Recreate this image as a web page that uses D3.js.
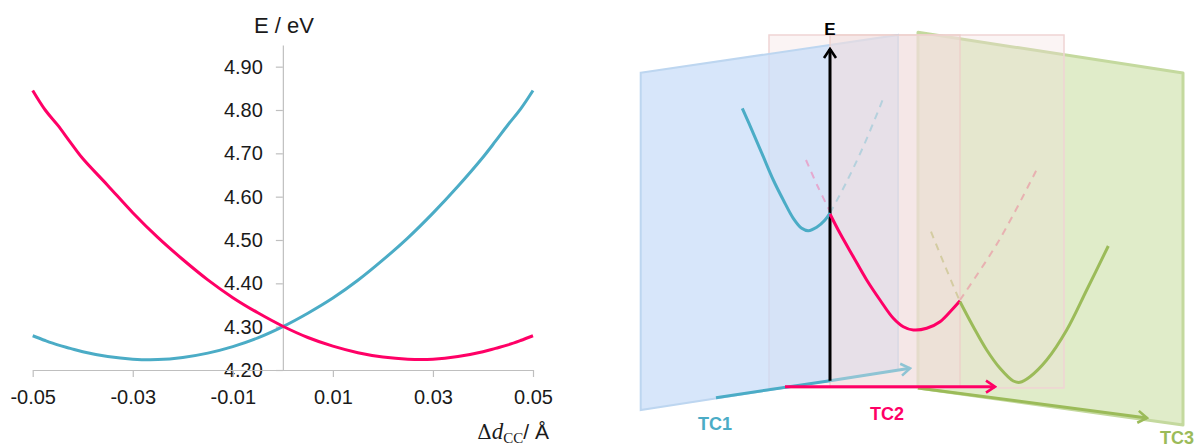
<!DOCTYPE html>
<html>
<head>
<meta charset="utf-8">
<script src="https://cdn.jsdelivr.net/npm/d3@7"></script>
<style>
  html, body { margin: 0; padding: 0; background: #ffffff; }
  svg { display: block; }
  text { font-family: "Liberation Sans", Arial, sans-serif; }
</style>
</head>
<body>
<svg id="chart" width="1196" height="448"></svg>
<script>
// ---------------- Left chart data ----------------
const dcc = [-0.05, -0.0475, -0.045, -0.0425, -0.04, -0.035, -0.03, -0.025, -0.02, -0.015, -0.01, -0.005,
             0, 0.005, 0.01, 0.015, 0.02, 0.025, 0.03, 0.035, 0.04, 0.0425, 0.045, 0.0475, 0.05];
const energyTC1 = [4.279, 4.268, 4.258, 4.250, 4.242, 4.231, 4.225, 4.224, 4.229, 4.239, 4.254, 4.274,
                   4.300, 4.331, 4.366, 4.407, 4.454, 4.505, 4.562, 4.624, 4.691, 4.728, 4.766, 4.802, 4.845];
const energyTC2 = [4.845, 4.800, 4.765, 4.726, 4.688, 4.626, 4.563, 4.506, 4.455, 4.408, 4.367, 4.332,
                   4.301, 4.275, 4.255, 4.240, 4.230, 4.225, 4.225, 4.231, 4.242, 4.250, 4.258, 4.268, 4.279];
const yTicks = [4.20, 4.30, 4.40, 4.50, 4.60, 4.70, 4.80, 4.90];
const xTicks = [-0.05, -0.03, -0.01, 0.01, 0.03, 0.05];

// ---------------- Right schematic data (diagram units) ----------------
const tc1Curve   = [[10.23,27.27],[11.33,24.77],[12.33,22.43],[13.33,20.10],[14.33,18.10],[15.33,16.27],[16.17,15.27],[16.83,15.03],[17.67,15.37],[18.50,16.10],[19.0,16.8]];
const tc1Dashed  = [[19.0,16.8],[20.6,19.8],[22.4,23.6],[24.33,28.27]];
const tc2DashedL = [[16.6,22.1],[17.8,19.4],[18.93,17.1]];
const tc2Curve   = [[19.0,16.7],[20.0,14.77],[21.33,12.43],[22.67,10.10],[24.0,8.10],[25.33,6.27],[26.33,5.43],[27.33,5.10],[28.67,5.27],[30.0,5.93],[31.17,7.10],[32.0,8.03]];
const tc2DashedR = [[32.0,8.1],[35.93,14.1],[39.8,21.4]];
const tc3DashedL = [[29.1,14.93],[30.5,11.5],[31.93,8.1]];
const tc3Curve   = [[32.0,7.93],[33.33,5.43],[34.67,3.10],[36.0,1.27],[37.33,0.0],[38.0,-0.13],[39.0,0.43],[40.67,2.10],[42.67,5.10],[44.67,9.10],[46.83,13.5]];
const panelTC1   = [[0.07,30.83],[25.8,34.6],[25.8,1.1],[19.0,0.03],[0.07,-2.9]];
const panelBack  = [[12.9,34.6],[42.4,34.6],[42.4,-0.7],[12.9,-0.7]];
const panelTC2   = [[19.0,34.6],[32.0,34.6],[32.0,-0.6],[19.0,-0.6]];
const panelTC3   = [[27.8,34.87],[54.3,30.8],[54.3,-4.4],[27.8,-0.7]];
const axisE      = [[19.0,0.03],[19.0,33.2]];
const axisTC1    = [[7.6,-1.67],[19.0,0.03]];
const axisTC1ext = [[19.0,0.03],[27.0,1.27]];
const axisTC2    = [[14.5,-0.57],[35.5,-0.57]];
const axisTC3    = [[27.8,-0.7],[50.7,-3.7]];
const diagramLabels = [
  {text: "E",   x: 19.0, y: 34.6, color: "#000000", size: 17},
  {text: "TC1", x: 7.5,  y: -4.9, color: "#4bacc6", size: 18},
  {text: "TC2", x: 24.7, y: -3.9, color: "#ff0066", size: 18},
  {text: "TC3", x: 53.7, y: -6.3, color: "#9bbb59", size: 18}
];

const BLUE = "#4bacc6", PINK = "#ff0066", GREEN = "#9bbb59";

const svg = d3.select("#chart");

// ================= LEFT CHART =================
const x = d3.scaleLinear().domain([-0.05, 0.05]).range([32.7, 533]);
const y = d3.scaleLinear().domain([4.2, 4.95]).range([370, 45]);

const left = svg.append("g");

const yAxis = d3.axisLeft(y).tickValues(yTicks).tickSize(7).tickSizeOuter(0).tickPadding(13)
  .tickFormat(d => d.toFixed(2));
const yg = left.append("g").attr("transform", `translate(${x(0)},0)`).call(yAxis);

const xAxis = d3.axisBottom(x).tickValues(xTicks).tickSize(7).tickSizeOuter(0).tickPadding(13)
  .tickFormat(d => d.toFixed(2));
const xg = left.append("g").attr("transform", `translate(0,${y(4.2)})`).call(xAxis);

[yg, xg].forEach(g => {
  g.selectAll("path.domain").attr("stroke", "#bfbfbf").attr("stroke-width", 1.2);
  g.selectAll(".tick line").attr("stroke", "#bfbfbf").attr("stroke-width", 1.2);
  g.selectAll(".tick text").attr("fill", "#1a1a1a").style("font-size", "20px")
    .style("font-family", "'Liberation Sans', Arial, sans-serif");
});

const line = d3.line().x(d => x(d[0])).y(d => y(d[1])).curve(d3.curveCatmullRom.alpha(0.5));
left.append("path").datum(dcc.map((d, i) => [d, energyTC1[i]]))
  .attr("d", line).attr("fill", "none").attr("stroke", BLUE).attr("stroke-width", 3);
left.append("path").datum(dcc.map((d, i) => [d, energyTC2[i]]))
  .attr("d", line).attr("fill", "none").attr("stroke", PINK).attr("stroke-width", 3);

left.append("text").attr("x", 284).attr("y", 33).attr("text-anchor", "middle")
  .style("font-size", "22px").attr("fill", "#1a1a1a").text("E / eV");

const xt = left.append("text").attr("x", 549).attr("y", 439).attr("text-anchor", "end")
  .style("font-size", "21px").attr("fill", "#1a1a1a");
xt.append("tspan").style("font-family", "'DejaVu Serif', serif").style("font-size", "20px").text("Δ");
xt.append("tspan").style("font-family", "'Liberation Serif', serif").style("font-style", "italic").style("font-size", "23px").text("d");
xt.append("tspan").style("font-family", "'Liberation Serif', serif").style("font-size", "15px").attr("dy", 4).text("CC");
xt.append("tspan").attr("dy", -4).text("/ Å");

// ================= RIGHT SCHEMATIC =================
const dX = d3.scaleLinear().domain([0, 55.6]).range([640, 1196]);
const dY = d3.scaleLinear().domain([0, 35]).range([381, 31]);
const right = svg.append("g");

const defs = svg.append("defs");
function marker(id, color) {
  defs.append("marker").attr("id", id).attr("viewBox", "-12 -8 14 16")
    .attr("refX", 0).attr("refY", 0).attr("markerWidth", 14).attr("markerHeight", 16)
    .attr("markerUnits", "userSpaceOnUse").attr("orient", "auto")
    .append("path").attr("d", "M-9,-6 L0,0 L-9,6").attr("fill", "none")
    .attr("stroke", color).attr("stroke-width", 2.6).attr("stroke-linejoin", "miter");
}
marker("arrE", "#000000");
marker("arrB", "#8fc4d4");
marker("arrP", PINK);
marker("arrG", GREEN);

const poly = pts => "M" + pts.map(p => `${dX(p[0])},${dY(p[1])}`).join("L") + "Z";
const pl = d3.line().x(d => dX(d[0])).y(d => dY(d[1]));
const smooth = d3.line().x(d => dX(d[0])).y(d => dY(d[1])).curve(d3.curveCatmullRom.alpha(0.5));

// green plane (TC3)
right.append("path").attr("d", poly(panelTC3)).attr("fill", "#e0ecc9")
  .attr("stroke", "#c4d99e").attr("stroke-width", 3).attr("stroke-linejoin", "round");
// back pink rectangle
right.append("path").attr("d", poly(panelBack)).attr("fill", "rgba(242,220,219,0.3)")
  .attr("stroke", "#f0d4d4").attr("stroke-width", 1.5);
// blue plane (TC1)
right.append("path").attr("d", poly(panelTC1)).attr("fill", "rgba(199,220,248,0.72)")
  .attr("stroke", "#bdd6f0").attr("stroke-width", 2);
// pink plane (TC2)
right.append("path").attr("d", poly(panelTC2)).attr("fill", "rgba(242,222,222,0.6)")
  .attr("stroke", "rgba(236,205,200,0.8)").attr("stroke-width", 1.5);

// dashed continuations
function dashed(data, color, op) {
  right.append("path").datum(data).attr("d", smooth).attr("fill", "none")
    .attr("stroke", color).attr("stroke-opacity", op).attr("stroke-width", 2)
    .attr("stroke-dasharray", "7,6");
}
dashed(tc1Dashed, "#9fcad8", 0.7);
dashed(tc2DashedL, "#e89ac4", 0.8);
dashed(tc2DashedR, "#e8a4aa", 0.8);
dashed(tc3DashedL, "#cdc795", 0.8);

// axes of schematic
right.append("path").datum(axisTC1ext).attr("d", pl).attr("stroke", "#8fc4d4").attr("stroke-width", 3)
  .attr("fill", "none").attr("marker-end", "url(#arrB)");
right.append("path").datum(axisTC1).attr("d", pl).attr("stroke", BLUE).attr("stroke-width", 3).attr("fill", "none");
right.append("path").datum(axisTC3).attr("d", pl).attr("stroke", GREEN).attr("stroke-width", 3)
  .attr("fill", "none").attr("marker-end", "url(#arrG)");
right.append("path").datum(axisTC2).attr("d", pl).attr("stroke", PINK).attr("stroke-width", 3)
  .attr("fill", "none").attr("marker-end", "url(#arrP)");
right.append("path").datum(axisE).attr("d", pl).attr("stroke", "#000000").attr("stroke-width", 3)
  .attr("fill", "none").attr("marker-end", "url(#arrE)");

// solid curves
function solid(data, color) {
  right.append("path").datum(data).attr("d", smooth).attr("fill", "none")
    .attr("stroke", color).attr("stroke-width", 3).attr("stroke-linecap", "butt");
}
solid(tc1Curve, BLUE);
solid(tc2Curve, PINK);
solid(tc3Curve, GREEN);

// labels
right.selectAll("text.lbl").data(diagramLabels).enter().append("text")
  .attr("class", "lbl").attr("x", d => dX(d.x)).attr("y", d => dY(d.y))
  .attr("text-anchor", "middle").attr("fill", d => d.color)
  .style("font-weight", "bold").style("font-size", d => d.size + "px").text(d => d.text);
</script>
</body>
</html>
